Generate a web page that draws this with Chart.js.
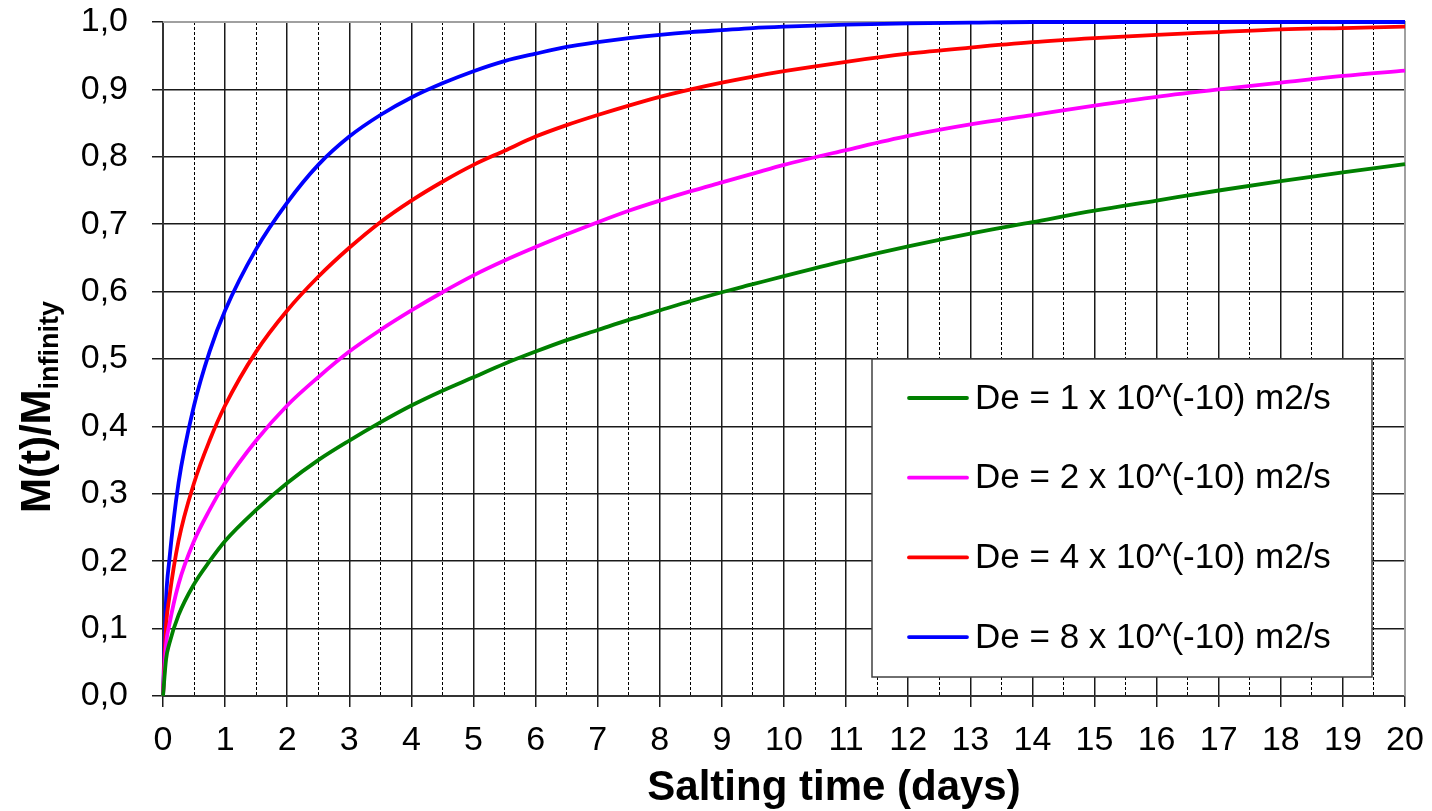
<!DOCTYPE html>
<html><head><meta charset="utf-8">
<script src="https://cdn.jsdelivr.net/npm/chart.js@4.4.1/dist/chart.umd.min.js"></script>
<style>html,body{margin:0;padding:0;background:#fff}canvas{display:block}</style>
</head><body>
<canvas id="c" width="1432" height="811"></canvas>
<script>
const days = [0,0.05,0.1,0.25,0.5,0.75,1,1.5,2,2.5,3,3.5,4,4.5,5,5.5,6,6.5,7,7.5,8,8.5,9,9.5,10,11,12,13,14,15,16,17,18,19,20];
const de1 = [0,0.055,0.077,0.12,0.166,0.2,0.23,0.276,0.316,0.35,0.379,0.406,0.431,0.453,0.473,0.493,0.511,0.528,0.543,0.558,0.572,0.586,0.599,0.611,0.623,0.646,0.667,0.686,0.703,0.72,0.735,0.75,0.764,0.777,0.789];
const de2 = [0,0.077,0.105,0.166,0.23,0.276,0.316,0.379,0.431,0.473,0.511,0.543,0.572,0.599,0.624,0.646,0.666,0.685,0.703,0.72,0.735,0.749,0.762,0.775,0.788,0.81,0.831,0.848,0.862,0.876,0.889,0.9,0.91,0.92,0.928];
const de4 = [0,0.105,0.145,0.23,0.316,0.379,0.431,0.511,0.572,0.622,0.665,0.703,0.735,0.763,0.788,0.809,0.83,0.847,0.862,0.876,0.889,0.9,0.91,0.919,0.927,0.941,0.953,0.962,0.97,0.976,0.981,0.985,0.989,0.991,0.993];
const de8 = [0,0.145,0.2,0.316,0.431,0.511,0.572,0.663,0.732,0.788,0.83,0.862,0.888,0.909,0.927,0.942,0.953,0.963,0.97,0.976,0.981,0.985,0.988,0.991,0.993,0.996,0.998,0.999,1,1,1,1,1,1,1];
const seriesLabels = ['De = 1 x 10^(-10) m2/s','De = 2 x 10^(-10) m2/s','De = 4 x 10^(-10) m2/s','De = 8 x 10^(-10) m2/s'];
const seriesColors = ['#008000','#ff00ff','#ff0000','#0000ff'];
const yTickLabels = ['0,0','0,1','0,2','0,3','0,4','0,5','0,6','0,7','0,8','0,9','1,0'];
const xTickLabels = ['0','1','2','3','4','5','6','7','8','9','10','11','12','13','14','15','16','17','18','19','20'];
const xTitle = 'Salting time (days)';
const yTitleMain = 'M(t)/M';
const yTitleSub = 'infinity';

const FONT = "'Liberation Sans', Arial, sans-serif";
const mk = (arr) => days.map((d,i)=>({x:d,y:arr[i]}));
const all = [de1,de2,de4,de8];
const isHalf = (c) => c.tick && !Number.isInteger(c.tick.value);

const decor = {
  id:'decor',
  beforeDatasetsDraw(chart){
    const {ctx, chartArea:a} = chart;
    ctx.save();
    ctx.strokeStyle='#a0a0a0'; ctx.lineWidth=2;
    ctx.beginPath(); ctx.moveTo(a.left,a.top); ctx.lineTo(a.right,a.top); ctx.lineTo(a.right,a.bottom); ctx.stroke();
    ctx.restore();
  },
  afterDatasetsDraw(chart){
    const ctx = chart.ctx;
    ctx.save();
    // legend
    const bx=872, by=359, bw=500, bh=318;
    ctx.fillStyle='#fff'; ctx.fillRect(bx,by,bw,bh);
    ctx.strokeStyle='#404040'; ctx.lineWidth=1.5; ctx.strokeRect(bx,by,bw,bh);
    chart.data.datasets.forEach((ds,i)=>{
      const y = 398 + i*79.7;
      ctx.strokeStyle = ds.borderColor; ctx.lineWidth=3.8; ctx.lineCap='round';
      ctx.beginPath(); ctx.moveTo(909,y); ctx.lineTo(967,y); ctx.stroke();
      ctx.fillStyle='#000'; ctx.font = '35px '+FONT; ctx.textBaseline='middle'; ctx.textAlign='left';
      ctx.fillText(ds.label, 975, y+1);
    });
    // x title
    ctx.fillStyle='#000'; ctx.font='bold 42px '+FONT; ctx.textAlign='center'; ctx.textBaseline='alphabetic';
    ctx.fillText(xTitle, 834, 800);
    // y title
    ctx.translate(50, 513); ctx.rotate(-Math.PI/2);
    ctx.textAlign='left';
    ctx.font='bold 42px '+FONT;
    ctx.fillText(yTitleMain, 0, 0);
    const w = ctx.measureText(yTitleMain).width;
    ctx.font='bold 27px '+FONT;
    ctx.fillText(yTitleSub, w, 8);
    ctx.restore();
  }
};

new Chart(document.getElementById('c'), {
  type:'line',
  data:{ datasets: all.map((arr,i)=>({
    label: seriesLabels[i], data: mk(arr), borderColor: seriesColors[i], backgroundColor: seriesColors[i],
    borderWidth:3.8, pointRadius:0, cubicInterpolationMode:'monotone', fill:false, clip:false
  }))},
  options:{
    responsive:false, animation:false, devicePixelRatio:1,
    layout:{padding:{top:22,right:27,left:0,bottom:0}},
    plugins:{legend:{display:false}, tooltip:{enabled:false}},
    scales:{
      x:{ type:'linear', min:0, max:20,
        afterFit(s){ s.height = 115; s.paddingLeft = 0; s.paddingRight = 0; },
        ticks:{ stepSize:0.5, autoSkip:false, maxRotation:0, padding:13, color:'#000',
          font:{family:FONT, size:34},
          callback:(v)=> Number.isInteger(v) ? xTickLabels[v] : '' },
        grid:{ color:(c)=> isHalf(c) ? '#000' : '#1a1a1a',
               lineWidth:(c)=> isHalf(c) ? 1 : 1.5,
               tickColor:(c)=> isHalf(c) ? 'rgba(0,0,0,0)' : '#1a1a1a',
               tickLength:11 },
        border:{ display:true, color:'#333', width:2,
                 dash:(c)=> isHalf(c) ? [3,2] : [] },
        title:{display:false}
      },
      y:{ min:0, max:1,
        afterFit(s){ s.width = 163; s.paddingTop = 0; s.paddingBottom = 0; },
        ticks:{ stepSize:0.1, padding:24, color:'#000', font:{family:FONT, size:34},
          callback:(v)=> yTickLabels[Math.round(v*10)] },
        grid:{ color:'#1a1a1a', lineWidth:1.5, tickColor:'#1a1a1a', tickLength:11 },
        border:{ display:true, color:'#333', width:2 },
        title:{display:false}
      }
    }
  },
  plugins:[decor]
});
</script>
</body></html>
